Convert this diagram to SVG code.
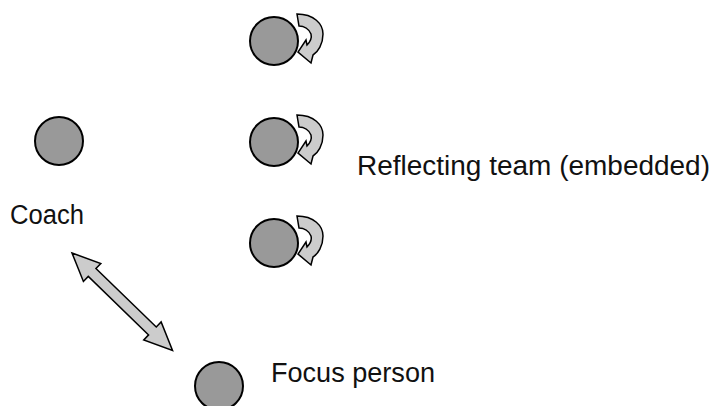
<svg xmlns="http://www.w3.org/2000/svg" xmlns:xlink="http://www.w3.org/1999/xlink" width="717" height="406" viewBox="0 0 717 406">
  <style>
    .person { fill: #999999; stroke: #000000; stroke-width: 2; }
    .turn { fill: #cccccc; stroke: #000000; stroke-width: 1.5; stroke-linejoin: miter; }
    .link { fill: #cccccc; stroke: #000000; stroke-width: 1.5; stroke-linejoin: miter; }
    .label { font-family: "Liberation Sans", Arial, sans-serif; font-size: 27px; fill: #111111; }
  </style>
  <defs>
    <!-- self-reflection arrow, drawn relative to its circle's centre -->
    <path id="selfTurn" class="turn" d="M 23,-27 C 40,-27 49,-17 49,-7 C 49,3 44,11 39,14 L 37,22 L 24,11 L 32,-1 L 33,4 C 36,1 38,-3 37,-7 C 35,-12 30,-15 25,-15 Z"/>
  </defs>

  <rect width="717" height="406" fill="#ffffff"/>

  <g id="connectors">
    <g transform="translate(72,253) rotate(44.1)">
      <polygon class="link" points="0,0 28,-12.5 28,-5.5 112,-5.5 112,-12.5 140,0 112,12.5 112,5.5 28,5.5 28,12.5"/>
    </g>
  </g>

  <g id="team-member-1">
    <circle class="person" cx="274" cy="41" r="24"/>
    <use xlink:href="#selfTurn" transform="translate(274,41)"/>
  </g>
  <g id="team-member-2">
    <circle class="person" cx="274" cy="142" r="24"/>
    <use xlink:href="#selfTurn" transform="translate(274,142)"/>
  </g>
  <g id="team-member-3">
    <circle class="person" cx="274" cy="243" r="24"/>
    <use xlink:href="#selfTurn" transform="translate(274,243)"/>
  </g>
  <g id="team-label">
    <text class="label" x="357" y="175" textLength="353" lengthAdjust="spacingAndGlyphs">Reflecting team (embedded)</text>
  </g>

  <g id="coach">
    <circle class="person" cx="59" cy="141" r="24"/>
    <text class="label" x="10" y="224" textLength="74" lengthAdjust="spacingAndGlyphs">Coach</text>
  </g>

  <g id="focus-person">
    <circle class="person" cx="219" cy="386" r="24"/>
    <text class="label" x="271" y="382" textLength="164" lengthAdjust="spacingAndGlyphs">Focus person</text>
  </g>
</svg>
